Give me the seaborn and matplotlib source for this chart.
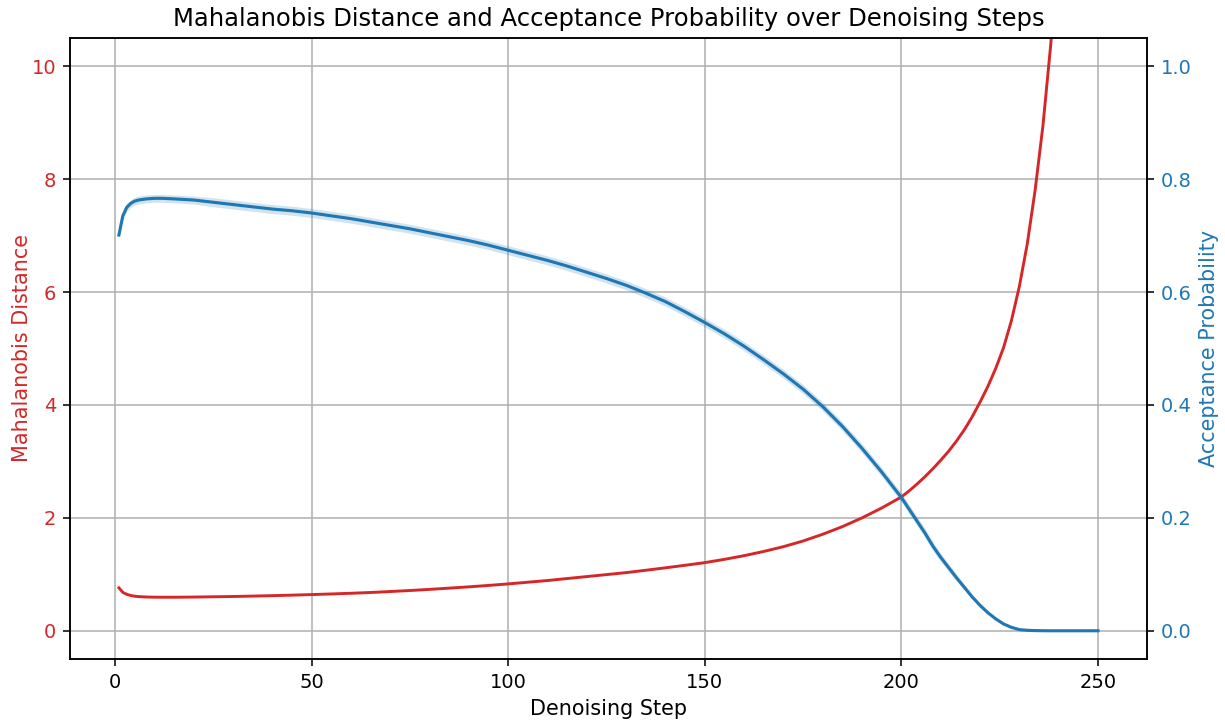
import matplotlib
matplotlib.use("Agg")
import matplotlib.pyplot as plt
import seaborn as sns
import numpy as np

steps = [1, 2, 3, 4, 5, 6, 8, 10, 12, 15, 20, 25, 30, 35, 40, 45, 50, 55, 60, 65,
         70, 75, 80, 85, 90, 95, 100, 105, 110, 115, 120, 125, 130, 135, 140, 145,
         150, 155, 160, 165, 170, 175, 180, 185, 190, 195, 200,
         202, 204, 206, 208, 210, 212, 214, 216, 218, 220, 222, 224, 226, 228,
         230, 232, 234, 236, 238, 240, 243, 246, 250]

mahalanobis = [0.76, 0.68, 0.645, 0.625, 0.612, 0.605, 0.598, 0.595, 0.594, 0.594,
               0.597, 0.602, 0.607, 0.614, 0.622, 0.631, 0.641, 0.652, 0.664, 0.678,
               0.695, 0.713, 0.733, 0.755, 0.778, 0.803, 0.83, 0.86, 0.89, 0.925,
               0.96, 0.995, 1.03, 1.072, 1.115, 1.16, 1.207, 1.265, 1.33, 1.405,
               1.49, 1.59, 1.71, 1.845, 2.0, 2.175, 2.37,
               2.48, 2.60, 2.73, 2.87, 3.02, 3.18, 3.36, 3.56, 3.79, 4.05, 4.33, 4.65,
               5.02, 5.50, 6.10, 6.85, 7.80, 8.95, 10.4, 12.3, 15.5, 19.5, 26.0]

acceptance = [0.701, 0.735, 0.750, 0.757, 0.761, 0.763, 0.765, 0.766, 0.766, 0.765,
              0.763, 0.759, 0.755, 0.751, 0.747, 0.744, 0.740, 0.735, 0.730, 0.724,
              0.718, 0.712, 0.705, 0.698, 0.691, 0.683, 0.674, 0.665, 0.656, 0.646,
              0.635, 0.624, 0.612, 0.598, 0.583, 0.565, 0.546, 0.526, 0.504, 0.480,
              0.455, 0.428, 0.397, 0.362, 0.323, 0.281, 0.236,
              0.215, 0.194, 0.173, 0.150, 0.130, 0.112, 0.094, 0.077, 0.060, 0.045,
              0.032, 0.021, 0.012, 0.006, 0.002, 0.0008, 0.0003, 0.0001, 0.0, 0.0,
              0.0, 0.0, 0.0]

acceptance_band = [0.002, 0.005, 0.007, 0.007, 0.007, 0.007, 0.007, 0.007, 0.007, 0.007,
                   0.007, 0.008, 0.008, 0.008, 0.008, 0.008, 0.008, 0.008, 0.008, 0.008,
                   0.008, 0.008, 0.008, 0.008, 0.008, 0.008, 0.008, 0.008, 0.008, 0.008,
                   0.008, 0.008, 0.008, 0.008, 0.008, 0.008, 0.008, 0.008, 0.008, 0.008,
                   0.008, 0.008, 0.008, 0.008, 0.008, 0.008, 0.008,
                   0.008, 0.008, 0.008, 0.008, 0.007, 0.007, 0.006, 0.005, 0.004, 0.004,
                   0.003, 0.002, 0.001, 0.0005, 0.0002, 0.0, 0.0, 0.0, 0.0, 0.0,
                   0.0, 0.0, 0.0]

RED = "tab:red"
BLUE = "tab:blue"

fig = plt.figure(figsize=(8.75, 5.15), dpi=140)
ax1 = fig.add_axes([0.0571, 0.086, 0.9363 - 0.0571, 0.9473 - 0.086])
ax2 = ax1.twinx()

sns.lineplot(x=steps, y=mahalanobis, ax=ax1, color=RED, linewidth=1.5)
acc = np.array(acceptance)
band = np.array(acceptance_band)
ax2.fill_between(steps, acc - band, acc + band, color=BLUE, alpha=0.2, linewidth=0)
sns.lineplot(x=steps, y=acceptance, ax=ax2, color=BLUE, linewidth=1.6)

ax1.set_xlim(-11.45, 262.45)
ax1.set_ylim(-0.5, 10.5)
ax2.set_ylim(-0.05, 1.05)
ax1.set_yticks([0, 2, 4, 6, 8, 10])
ax2.set_yticks([0.0, 0.2, 0.4, 0.6, 0.8, 1.0])
ax1.set_xticks([0, 50, 100, 150, 200, 250])

ax1.grid(True, color="#b0b0b0", linewidth=0.8)
ax1.set_axisbelow(True)

ax1.set_xlabel("Denoising Step", fontsize=10.7)
ax1.set_ylabel("Mahalanobis Distance", color=RED, fontsize=10.7, labelpad=0)
ax2.set_ylabel("Acceptance Probability", color=BLUE, fontsize=10.7)
ax1.tick_params(axis="y", labelcolor=RED)
ax2.tick_params(axis="y", labelcolor=BLUE)
ax1.set_title("Mahalanobis Distance and Acceptance Probability over Denoising Steps",
              fontsize=12.5)

fig.savefig("out.png", dpi=140)
